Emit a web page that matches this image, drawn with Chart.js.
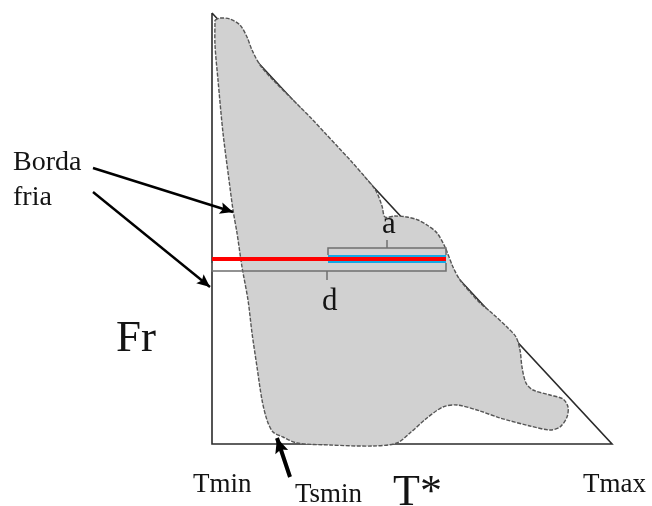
<!DOCTYPE html>
<html lang="pt">
<head>
<meta charset="utf-8">
<title>Borda fria</title>
<script src="https://cdn.jsdelivr.net/npm/chart.js@4.4.1/dist/chart.umd.min.js"></script>
<style>
  html, body { margin: 0; padding: 0; background: #ffffff; }
  #wrap { width: 652px; height: 506px; }
</style>
</head>
<body>
<div id="wrap"><canvas id="diagram" width="652" height="506"></canvas></div>
<script>
'use strict';

// coordinates in the figure's own units (T* across, Fr down)
const TRIANGLE = [[212, 13], [212, 444], [612, 444], [212, 13]];

const BLOB = [
  [215, 20], [220, 18], [230, 19], [240, 25], [247, 37], [252, 50], [260, 65],
  [273, 80], [290, 97], [300, 107], [311, 118], [325, 133], [338, 147],
  [351, 161], [365, 177], [376, 191], [382, 206], [385, 217], [395, 216],
  [407, 217], [418, 220], [427, 225], [437, 233], [445, 247], [453, 267],
  [460, 280], [470, 292], [480, 303], [493, 314], [507, 327], [516, 337],
  [520, 350], [522, 367], [526, 383], [533, 390], [550, 395], [563, 399],
  [568, 407], [567, 417], [560, 427], [550, 430], [530, 426], [500, 418],
  [480, 411], [457, 405], [443, 407], [427, 418], [410, 433], [397, 443],
  [373, 446], [330, 445], [297, 443], [283, 437], [273, 432], [267, 420],
  [262, 400], [257, 367], [252, 333], [248, 300], [242, 267], [237, 233],
  [233, 210], [229, 180], [223, 133], [218, 80], [215, 45], [215, 20]
];

const RED_LINE = [[212, 259], [446, 259]];
const BLUE_LINE = [[328, 259], [446, 259]];
const BRACKET_A = [[328, 255], [328, 248], [446, 248], [446, 255]];
const BRACKET_A_TICK = [[387, 248], [387, 240]];
const BRACKET_D = [[212, 263], [212, 271], [446, 271], [446, 263]];
const BRACKET_D_TICK = [[327, 271], [327, 280]];

const ARROW_UPPER = [[93, 168], [233, 212]];
const ARROW_LOWER = [[93, 192], [210, 287]];
const ARROW_TSMIN = [[290, 477], [277, 438]];

const LABELS = [
  ['Borda', 13, 170, 28],
  ['fria', 13, 205, 28],
  ['Fr', 116, 351, 45],
  ['a', 382, 233, 31],
  ['d', 322, 310, 31],
  ['Tmin', 193, 492, 27],
  ['Tsmin', 295, 502, 27],
  ['T*', 393, 505, 44],
  ['Tmax', 583, 492, 27]
];

(function () {
  const toXY = (pts) => pts.map(([x, y]) => ({ x, y }));

  function seg(pts, color, width, order, extra) {
    return Object.assign({
      data: toXY(pts),
      showLine: true,
      borderColor: color,
      borderWidth: width,
      pointRadius: 0,
      fill: false,
      tension: 0,
      order: order
    }, extra || {});
  }

  // arrow heads at the last point of datasets flagged with arrowHead
  const arrowHeads = {
    id: 'arrowHeads',
    afterDatasetsDraw(chart) {
      const ctx = chart.ctx;
      chart.data.datasets.forEach((ds, i) => {
        if (!ds.arrowHead) return;
        const pts = chart.getDatasetMeta(i).data;
        const a = pts[pts.length - 2];
        const b = pts[pts.length - 1];
        const ang = Math.atan2(b.y - a.y, b.x - a.x);
        const len = ds.arrowHead;
        const half = len * 0.45;
        ctx.save();
        ctx.translate(b.x, b.y);
        ctx.rotate(ang);
        ctx.fillStyle = ds.borderColor;
        ctx.beginPath();
        ctx.moveTo(0, 0);
        ctx.lineTo(-len, -half);
        ctx.lineTo(-len * 0.8, 0);
        ctx.lineTo(-len, half);
        ctx.closePath();
        ctx.fill();
        ctx.restore();
      });
    }
  };

  const textLabels = {
    id: 'textLabels',
    afterDraw(chart) {
      const ctx = chart.ctx;
      const sx = chart.scales.x;
      const sy = chart.scales.y;
      ctx.save();
      ctx.fillStyle = '#141414';
      ctx.textAlign = 'left';
      ctx.textBaseline = 'alphabetic';
      LABELS.forEach(([text, x, y, size]) => {
        ctx.font = size + 'px "Liberation Serif", "Times New Roman", serif';
        ctx.fillText(text, sx.getPixelForValue(x), sy.getPixelForValue(y));
      });
      ctx.restore();
    }
  };

  const whiteBg = {
    id: 'whiteBg',
    beforeDraw(chart) {
      const ctx = chart.ctx;
      ctx.save();
      ctx.fillStyle = '#ffffff';
      ctx.fillRect(0, 0, chart.width, chart.height);
      ctx.restore();
    }
  };

  new Chart(document.getElementById('diagram'), {
    type: 'scatter',
    data: {
      datasets: [
        seg(TRIANGLE, '#2b2b2b', 1.6, 9),
        seg(BLOB, '#555555', 1.4, 8, {
          fill: 'shape',
          backgroundColor: '#d1d1d1',
          borderDash: [4, 1.5],
          tension: 0.3
        }),
        seg(BLUE_LINE, '#12a8e6', 8, 6),
        seg(RED_LINE, '#ff0000', 4, 5),
        seg(BRACKET_A, '#6f6f6f', 1.5, 4),
        seg(BRACKET_A_TICK, '#6f6f6f', 1.5, 4),
        seg(BRACKET_D, '#6f6f6f', 1.5, 4),
        seg(BRACKET_D_TICK, '#6f6f6f', 1.5, 4),
        seg(ARROW_UPPER, '#000000', 2.4, 1, { arrowHead: 13 }),
        seg(ARROW_LOWER, '#000000', 2.4, 1, { arrowHead: 13 }),
        seg(ARROW_TSMIN, '#000000', 4, 1, { arrowHead: 15 })
      ]
    },
    options: {
      responsive: false,
      animation: false,
      layout: { padding: 0 },
      events: [],
      scales: {
        x: { type: 'linear', min: 0, max: 652, display: false },
        y: { type: 'linear', min: 0, max: 506, reverse: true, display: false }
      },
      plugins: {
        legend: { display: false },
        tooltip: { enabled: false }
      }
    },
    plugins: [whiteBg, arrowHeads, textLabels]
  });
})();
</script>
</body>
</html>
